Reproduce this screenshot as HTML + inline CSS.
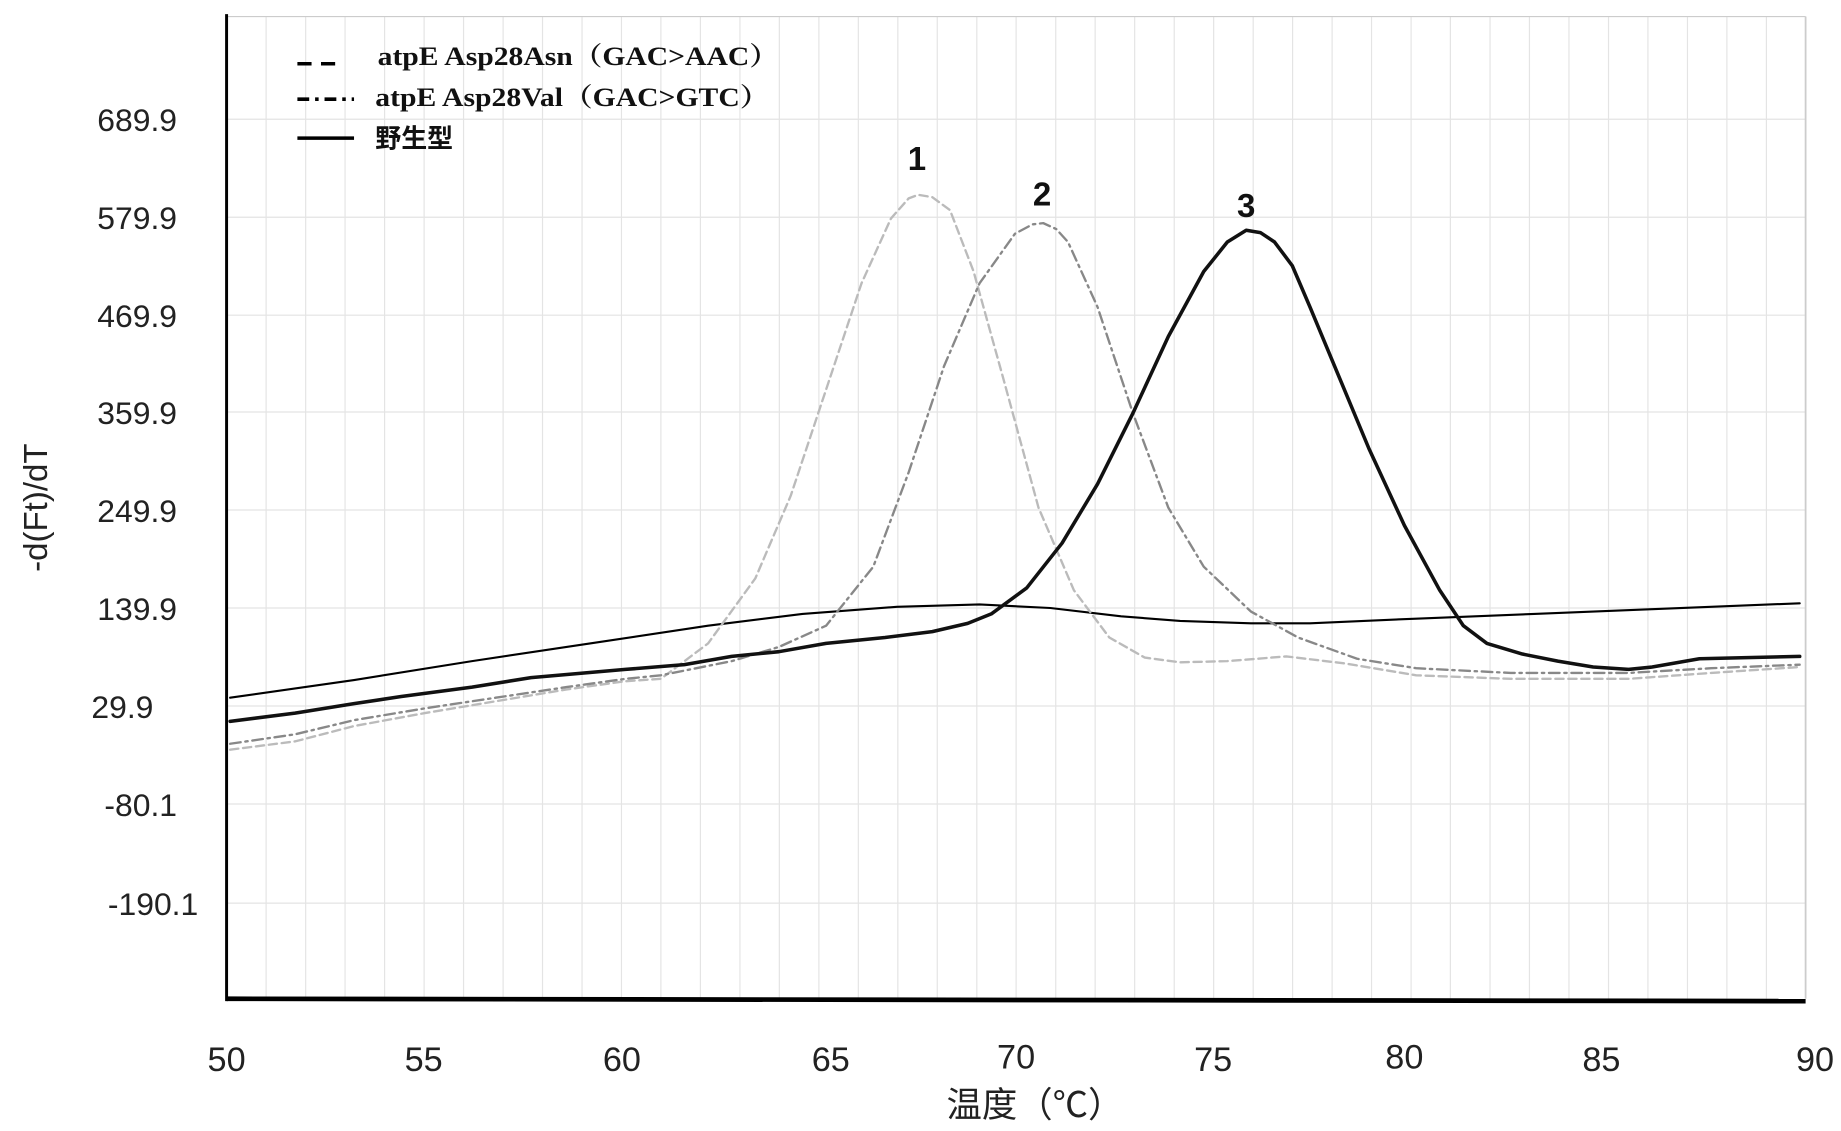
<!DOCTYPE html>
<html><head><meta charset="utf-8"><style>html,body{margin:0;padding:0;background:#fff}svg{display:block}</style></head>
<body>
<svg width="1841" height="1131" viewBox="0 0 1560 958" preserveAspectRatio="none" xmlns="http://www.w3.org/2000/svg" font-family="'Liberation Sans','Noto Sans CJK SC',sans-serif">
<rect width="1560" height="958" fill="#fff"/>
<g stroke="#e4e4e4" stroke-width="1">
<path d="M225.5 14V846M259 14V846M292.4 14V846M325.9 14V846M359.4 14V846M392.8 14V846M426.3 14V846M459.7 14V846M493.2 14V846M526.6 14V846M560 14V846M593.5 14V846M627 14V846M660.4 14V846M693.9 14V846M727.3 14V846M760.8 14V846M794.2 14V846M827.7 14V846M861 14V846M894.6 14V846M928 14V846M961.5 14V846M995 14V846M1028.4 14V846M1061.9 14V846M1095.3 14V846M1128.8 14V846M1162.2 14V846M1195.7 14V846M1229 14V846M1262.6 14V846M1296 14V846M1329.5 14V846M1363 14V846M1396.4 14V846M1429.9 14V846M1463.3 14V846M1496.8 14V846"/>
<path d="M192 101H1530M192 184H1530M192 267H1530M192 349H1530M192 432H1530M192 515H1530M192 598H1530M192 681H1530M192 765H1530"/>
</g>
<path d="M1530 14V846" stroke="#ccc" stroke-width="1.5"/>
<path d="M192 14H1530" stroke="#ccc" stroke-width="1"/>
<path d="M192 12V848" stroke="#000" stroke-width="2.5"/>
<path d="M192 846L1530 848" stroke="#000" stroke-width="4"/>
<g font-size="27" fill="#222" text-anchor="end">
<text x="150" y="111">689.9</text><text x="150" y="194">579.9</text><text x="150" y="277">469.9</text><text x="150" y="359">359.9</text><text x="150" y="442">249.9</text><text x="150" y="525">139.9</text><text x="130" y="608">29.9</text><text x="150" y="691">-80.1</text><text x="168" y="775">-190.1</text>
</g>
<g font-size="29" fill="#222" text-anchor="middle">
<text x="192" y="907">50</text><text x="359" y="907">55</text><text x="527" y="907">60</text><text x="704" y="907">65</text><text x="861" y="905">70</text><text x="1028" y="907">75</text><text x="1190" y="905">80</text><text x="1357" y="907">85</text><text x="1538" y="907">90</text>
</g>
<text x="877" y="946" font-size="30" fill="#222" text-anchor="middle">温度（℃）</text>
<text transform="translate(40 430) rotate(-90)" font-size="28" fill="#222" text-anchor="middle">-d(Ft)/dT</text>
<g fill="none" stroke-linejoin="round" stroke-linecap="round">
<polyline stroke="#000" stroke-width="1.8" points="195,591 300,576 400,560 500,545 600,530 680,520 760,514 830,512 890,515 950,522 1000,526 1060,528 1110,528 1200,524 1300,520 1400,516 1525,511"/>
<polyline stroke="#bbb" stroke-width="2" stroke-dasharray="7,4" points="195,635 250,628 300,615 360,604 420,594 480,584 530,577 560,575 600,545 640,490 670,420 700,330 730,240 755,185 770,168 778,165 790,167 805,178 825,230 850,320 880,430 910,500 940,540 970,557 1000,561 1040,560 1090,556 1140,562 1200,572 1280,575 1380,575 1450,570 1525,565"/>
<polyline stroke="#888" stroke-width="2" stroke-dasharray="9,4,2,4" points="195,630 250,622 300,610 360,600 420,591 480,582 530,575 560,572 620,560 660,548 700,530 740,480 770,400 800,310 830,240 860,198 875,190 884,189 895,194 905,205 930,260 960,350 990,430 1020,480 1060,518 1100,540 1150,558 1200,566 1280,570 1380,570 1450,566 1525,563"/>
<polyline stroke="#111" stroke-width="3" points="195,611 250,604 300,596 340,590 400,582 450,574 530,567 580,563 620,556 660,552 700,545 750,540 790,535 820,528 840,520 870,498 900,460 930,410 960,350 990,285 1020,230 1040,205 1056,195 1068,197 1080,205 1095,225 1110,260 1135,320 1160,380 1190,445 1220,500 1240,530 1260,545 1290,554 1320,560 1350,565 1380,567 1400,565 1440,558 1480,557 1525,556"/>
</g>
<g stroke="#000" stroke-width="3">
<path d="M252 54H292" stroke-dasharray="12,8"/>
<path d="M252 84H300" stroke-dasharray="10,5,3,5"/>
<path d="M252 117H300"/>
</g>
<g font-family="'Liberation Serif','Noto Serif CJK SC',serif" font-weight="bold" font-size="22" fill="#111">
<text x="320" y="55" textLength="340" lengthAdjust="spacingAndGlyphs">atpE Asp28Asn（GAC&gt;AAC）</text>
<text x="318" y="90" textLength="334" lengthAdjust="spacingAndGlyphs">atpE Asp28Val（GAC&gt;GTC）</text>
<text x="318" y="125" font-family="'Noto Sans CJK SC',sans-serif">野生型</text>
</g>
<g font-size="28" font-weight="bold" fill="#111" text-anchor="middle">
<text x="777" y="144">1</text><text x="883" y="174">2</text><text x="1056" y="184">3</text>
</g>
</svg>
</body></html>
